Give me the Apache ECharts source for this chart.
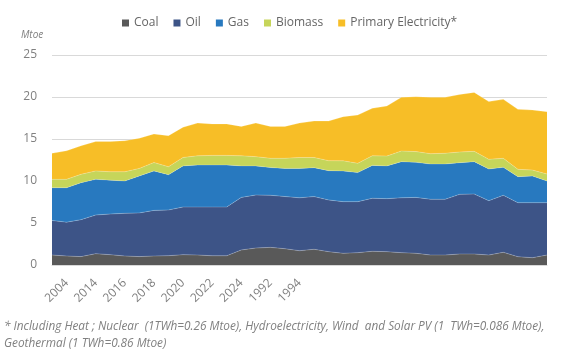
<!DOCTYPE html>
<html>
<head>
<meta charset="utf-8">
<script src="https://cdn.jsdelivr.net/npm/echarts@6/dist/echarts.min.js"></script>
<style>
html,body{margin:0;padding:0;background:#fff;}
#c{width:568px;height:363px;}
</style>
</head>
<body>
<div id="c"></div>
<script>
// Tick labels (only odd positions up to index 17 carry a label in the source)
var categories = ['', '2004', '', '2014', '', '2016', '', '2018', '', '2020', '', '2022', '', '2024', '', '1992', '', '1994',
  '', '', '', '', '', '', '', '', '', '', '', '', '', '', '', '', ''];

var coal = [1.19,1.07,1.00,1.35,1.23,1.07,1.00,1.07,1.11,1.23,1.19,1.10,1.10,1.79,2.02,2.10,1.94,1.70,1.87,1.59,1.39,1.47,1.63,1.59,1.47,1.39,1.19,1.19,1.31,1.31,1.19,1.51,0.99,0.87,1.19];
var oil = [4.11,4.03,4.40,4.60,4.84,5.08,5.20,5.43,5.44,5.67,5.71,5.80,5.80,6.26,6.31,6.20,6.21,6.30,6.27,6.15,6.15,6.07,6.31,6.31,6.53,6.66,6.63,6.63,7.10,7.14,6.47,6.78,6.43,6.55,6.23];
var gas = [3.90,4.10,4.40,4.25,4.03,3.85,4.40,4.70,4.20,4.90,5.00,5.00,5.00,3.75,3.47,3.30,3.35,3.50,3.45,3.49,3.65,3.46,3.92,3.90,4.30,4.17,4.20,4.20,3.77,3.85,3.77,3.34,3.10,3.18,2.58];
var biomass = [1.00,1.00,1.00,1.00,1.00,1.10,0.90,1.00,0.95,1.00,1.10,1.15,1.15,1.20,1.10,1.10,1.20,1.30,1.21,1.19,1.21,1.10,1.14,1.17,1.27,1.28,1.23,1.28,1.27,1.23,1.15,1.07,0.87,0.70,0.83];
var primary = [3.10,3.40,3.40,3.50,3.60,3.70,3.60,3.40,3.70,3.60,3.90,3.75,3.75,3.50,4.00,3.80,3.80,4.10,4.34,4.72,5.26,5.76,5.65,5.96,6.39,6.54,6.71,6.66,6.85,7.02,6.87,7.02,7.14,7.15,7.42];

var seriesNames = ['Coal', 'Oil', 'Gas', 'Biomass', 'Primary Electricity*'];
var seriesData = [coal, oil, gas, biomass, primary];
var colors = ['#595959', '#3d5487', '#2879bf', '#c6d55a', '#f7be27'];

var FONT = '"Open Sans", "Noto Sans", sans-serif';

var chart = echarts.init(document.getElementById('c'), null, {renderer: 'canvas'});
chart.setOption({
  animation: false,
  color: colors,
  textStyle: {fontFamily: FONT},
  legend: {
    top: 12,
    left: 117,
    itemWidth: 7,
    itemHeight: 7,
    itemGap: 15,
    icon: 'rect',
    textStyle: {fontSize: 12, color: '#666666', fontFamily: FONT},
    data: seriesNames
  },
  grid: {left: 52, right: 21, top: 55, bottom: 98, containLabel: false},
  xAxis: {
    type: 'category',
    boundaryGap: false,
    data: categories,
    axisLine: {show: true, lineStyle: {color: '#d9d9d9'}},
    axisTick: {show: false},
    axisLabel: {
      rotate: 45,
      margin: 16,
      fontSize: 12,
      color: '#808080',
      fontFamily: FONT,
      interval: function (idx) { return idx % 2 === 1 && idx <= 17; }
    }
  },
  yAxis: {
    type: 'value',
    min: 0,
    max: 25,
    interval: 5,
    axisLine: {show: false},
    axisTick: {show: false},
    axisLabel: {fontSize: 12, color: '#808080', margin: 15, fontFamily: FONT},
    splitLine: {lineStyle: {color: '#d9d9d9', width: 1}}
  },
  graphic: [
    {type: 'text', left: 21, top: 30, style: {text: 'Mtoe', font: 'italic 10px ' + FONT, fill: '#808080'}},
    {type: 'text', left: 4, top: 318, style: {
      text: '* Including Heat ; Nuclear  (1TWh=0.26 Mtoe), Hydroelectricity, Wind  and Solar PV (1  TWh=0.086 Mtoe),\nGeothermal (1 TWh=0.86 Mtoe)',
      font: 'italic 11.8px ' + FONT, fill: '#808080', lineHeight: 17}}
  ],
  series: seriesNames.map(function (n, i) {
    return {
      name: n,
      type: 'line',
      stack: 'total',
      data: seriesData[i],
      symbol: 'none',
      lineStyle: {width: 0.6, color: 'rgba(255,255,255,0.35)'},
      areaStyle: {color: colors[i], opacity: 1},
      itemStyle: {color: colors[i]}
    };
  })
});
</script>
</body>
</html>
